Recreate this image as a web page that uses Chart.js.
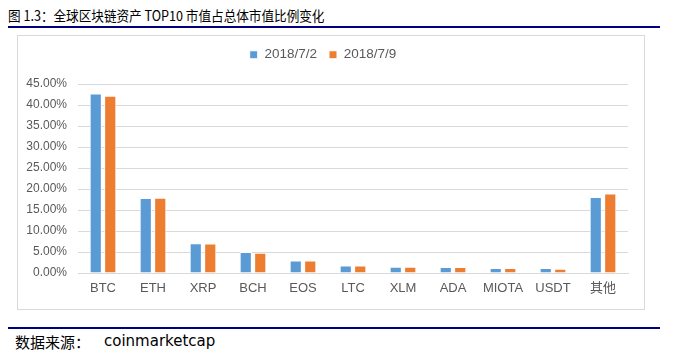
<!DOCTYPE html>
<html>
<head>
<meta charset="utf-8">
<script src="https://cdn.jsdelivr.net/npm/chart.js@4/dist/chart.umd.min.js"></script>
<style>
  body { margin: 0; background: #fff; width: 675px; height: 354px; position: relative; overflow: hidden; }
  .title { position: absolute; left: 8px; top: 5px; font: 14px "Noto Sans CJK SC", sans-serif; color: #000; white-space: nowrap; transform: scaleX(0.9); transform-origin: left top; }
  .rule-top { position: absolute; left: 8px; top: 26px; width: 652px; height: 2px; background: #000080; }
  .box { position: absolute; left: 17px; top: 35px; width: 626px; height: 273px; border: 1px solid #d9d9d9; }
  .wrap { position: absolute; left: 18px; top: 36px; width: 625px; height: 272px; }
  .rule-bottom { position: absolute; left: 8px; top: 327px; width: 652px; height: 2px; background: #000080; }
  .source { position: absolute; left: 15px; top: 331px; font: 15px "Noto Sans CJK SC", sans-serif; color: #000; white-space: nowrap; }
  .source span { font-family: "DejaVu Sans", sans-serif; position: absolute; left: 89px; top: 1px; }
</style>
</head>
<body>
<div class="title">图 1.3：全球区块链资产 TOP10 市值占总体市值比例变化</div>
<div class="rule-top"></div>
<div class="box"></div>
<div class="wrap"><canvas id="myChart" width="625" height="272"></canvas></div>
<div class="rule-bottom"></div>
<div class="source">数据来源：<span>coinmarketcap</span></div>
<script>
const coins = ["BTC", "ETH", "XRP", "BCH", "EOS", "LTC", "XLM", "ADA", "MIOTA", "USDT", "其他"];
const seriesNames = ["2018/7/2", "2018/7/9"];
const shareJul2 = [42.76, 17.86, 7.1, 5.0, 3.0, 1.8, 1.5, 1.45, 1.2, 1.2, 18.1];
const shareJul9 = [42.2, 17.9, 7.0, 4.85, 3.0, 1.8, 1.5, 1.45, 1.2, 1.0, 18.9];
const yTicks = [0, 5, 10, 15, 20, 25, 30, 35, 40, 45];

// fixed legend band so the plot top lands on the 45% line
const legendHeight = {
  id: "legendHeight",
  afterInit(chart) {
    const fit = chart.legend.fit;
    chart.legend.fit = function () {
      fit.bind(chart.legend)();
      this.height = 48;
    };
  }
};

const ctx = document.getElementById("myChart").getContext("2d");
const myChart = new Chart(ctx, {
  type: "bar",
  data: {
    labels: coins,
    datasets: [
      {
        label: seriesNames[0],
        data: shareJul2,
        backgroundColor: "#5b9bd5",
        borderColor: "#ffffff",
        borderWidth: 1,
      },
      {
        label: seriesNames[1],
        data: shareJul9,
        backgroundColor: "#ed7d31",
        borderColor: "#ffffff",
        borderWidth: 1,
      },
    ],
  },
  options: {
    responsive: false,
    devicePixelRatio: 1,
    animation: false,
    layout: { padding: { left: 0, right: 15, top: 0, bottom: 0 } },
    datasets: { bar: { categoryPercentage: 0.58, barPercentage: 0.84 } },
    plugins: {
      tooltip: { enabled: false },
      legend: {
        position: "top",
        labels: {
          boxWidth: 8,
          boxHeight: 8,
          padding: 12,
          color: "#595959",
          font: { family: "Liberation Sans", size: 13.5 },
        },
      },
    },
    scales: {
      x: {
        grid: { display: false, drawTicks: false },
        border: { color: "#d9d9d9" },
        ticks: { padding: 8, color: "#595959", font: { family: "Liberation Sans, Noto Sans CJK SC", size: 13 } },
        afterFit: (scale) => { scale.height = 35; },
      },
      y: {
        min: 0,
        max: 45,
        grid: { color: "#d9d9d9", drawTicks: false },
        border: { display: false },
        afterBuildTicks: (scale) => { scale.ticks = yTicks.map((v) => ({ value: v })); },
        ticks: {
          padding: 11,
          color: "#595959",
          font: { family: "Liberation Sans", size: 12 },
          callback: (v) => v.toFixed(2) + "%",
        },
        afterFit: (scale) => { scale.width = 60; },
      },
    },
  },
  plugins: [legendHeight],
});
</script>
</body>
</html>
